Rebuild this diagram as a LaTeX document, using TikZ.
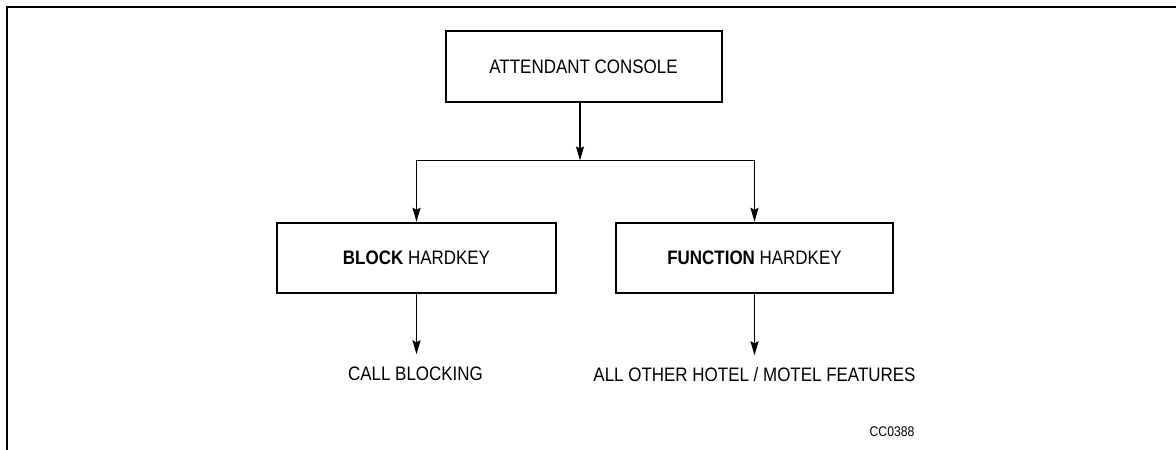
\documentclass[tikz,border=0pt]{standalone}
\usepackage{fontspec}
\setmainfont[FakeStretch=0.87]{Liberation Sans}
\usetikzlibrary{arrows.meta}
\begin{document}
\begin{tikzpicture}[x=1pt,y=-1pt,
  box/.style={draw,line width=2pt,inner sep=0pt,font=\fontsize{19.5}{22}\selectfont},
  lbl/.style={inner sep=0pt,font=\fontsize{19.5}{22}\selectfont,text height=14pt,text depth=0pt},
  conn/.style={line width=1.6pt,-{Stealth[length=14pt,width=8pt,inset=2pt]}}]
\useasboundingbox (0,0) rectangle (1176,450);
\draw[line width=2.6pt] (7,450) -- (7,7) -- (1176,7);
\node[box,minimum width=276pt,minimum height=70.5pt] (top) at (583.5,66.3) {ATTENDANT CONSOLE};
\node[box,minimum width=279pt,minimum height=70.3pt] (block) at (416.5,257.9) {\textbf{BLOCK} HARDKEY};
\node[box,minimum width=277pt,minimum height=70.3pt] (func) at (754.5,257.9) {\textbf{FUNCTION} HARDKEY};
\coordinate (j) at (580,160.5);
\draw[conn] (top.south -| j) -- (j);
\draw[conn] (j) -| (block.north);
\draw[conn] (j) -| (func.north);
\node[lbl] (cb) at (415.5,373.5) {CALL BLOCKING};
\node[lbl] (af) at (754.5,374.5) {ALL OTHER HOTEL / MOTEL FEATURES};
\draw[conn,shorten >=12pt] (block.south) -- (block.south |- cb.north);
\draw[conn,shorten >=12pt] (func.south) -- (func.south |- af.north);
\node[inner sep=0pt,font=\fontsize{14}{16}\selectfont] (cc) at (892,432) {CC0388};
\end{tikzpicture}
\end{document}
